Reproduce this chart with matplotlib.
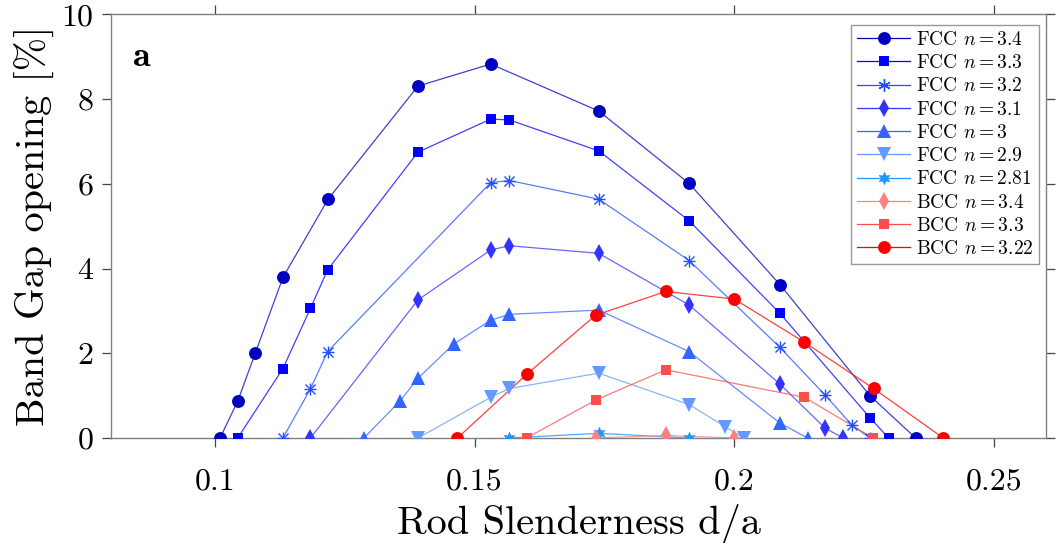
import matplotlib
matplotlib.use("Agg")
import matplotlib.pyplot as plt

plt.rcParams["font.family"] = "serif"
plt.rcParams["font.serif"] = ["cmr10"]
plt.rcParams["mathtext.fontset"] = "cm"
plt.rcParams["axes.formatter.use_mathtext"] = True

# band gap opening [%] vs rod slenderness d/a
fcc34_x = [0.101, 0.1044, 0.1078, 0.1131, 0.1218, 0.1391, 0.1531, 0.1739, 0.1913, 0.2088, 0.2261, 0.2349]
fcc34_y = [0.0, 0.87, 2.01, 3.79, 5.64, 8.31, 8.83, 7.72, 6.01, 3.62, 1.00, 0.0]

fcc33_x = [0.1044, 0.1131, 0.1184, 0.1217, 0.1391, 0.1531, 0.1567, 0.1739, 0.1913, 0.2088, 0.2261, 0.2297]
fcc33_y = [0.0, 1.64, 3.06, 3.97, 6.75, 7.53, 7.51, 6.78, 5.13, 2.94, 0.48, 0.0]

fcc32_x = [0.1131, 0.1184, 0.1217, 0.1531, 0.1567, 0.1739, 0.1913, 0.2087, 0.2175, 0.2226, 0.2261]
fcc32_y = [0.0, 1.16, 2.04, 6.03, 6.08, 5.64, 4.19, 2.15, 1.01, 0.31, 0.0]

fcc31_x = [0.1184, 0.1391, 0.1531, 0.1567, 0.1739, 0.1913, 0.2088, 0.2175, 0.2210]
fcc31_y = [0.0, 3.26, 4.44, 4.54, 4.36, 3.14, 1.27, 0.23, 0.0]

fcc30_x = [0.1287, 0.1357, 0.1391, 0.1460, 0.1531, 0.1567, 0.1739, 0.1913, 0.2088, 0.2141]
fcc30_y = [0.0, 0.88, 1.41, 2.22, 2.78, 2.92, 3.02, 2.04, 0.35, 0.0]

fcc29_x = [0.1391, 0.1531, 0.1567, 0.1739, 0.1913, 0.1982, 0.2018]
fcc29_y = [0.0, 0.96, 1.17, 1.53, 0.79, 0.27, 0.0]

fcc281_x = [0.1567, 0.1739, 0.1913]
fcc281_y = [0.0, 0.11, 0.0]

bcc34_x = [0.1734, 0.1868, 0.2000]
bcc34_y = [0.0, 0.06, 0.0]

bcc33_x = [0.1600, 0.1734, 0.1868, 0.2135, 0.2267]
bcc33_y = [0.0, 0.90, 1.61, 0.96, 0.0]

bcc322_x = [0.1467, 0.1600, 0.1733, 0.1868, 0.2000, 0.2135, 0.2268, 0.2402]
bcc322_y = [0.0, 1.50, 2.90, 3.46, 3.28, 2.26, 1.17, 0.0]

series = [
    (fcc34_x, fcc34_y, "FCC $n = 3.4$", "#0000c0", "o", 9.3),
    (fcc33_x, fcc33_y, "FCC $n = 3.3$", "#0000ff", "s", 7),
    (fcc32_x, fcc32_y, "FCC $n = 3.2$", "#1f4fff", "*", 0),
    (fcc31_x, fcc31_y, "FCC $n = 3.1$", "#3333ff", "d", 9.3),
    (fcc30_x, fcc30_y, "FCC $n = 3$", "#3366ff", "^", 9.5),
    (fcc29_x, fcc29_y, "FCC $n = 2.9$", "#6699ff", "v", 9.5),
    (fcc281_x, fcc281_y, "FCC $n = 2.81$", "#2196ff", "h", 0),
    (bcc34_x, bcc34_y, "BCC $n = 3.4$", "#ff8080", "d", 9.3),
    (bcc33_x, bcc33_y, "BCC $n = 3.3$", "#ff4d4d", "s", 7),
    (bcc322_x, bcc322_y, "BCC $n = 3.22$", "#ff0000", "o", 9.3),
]

fig = plt.figure(figsize=(10.59, 5.43), dpi=100)
ax = fig.add_axes([0.1048, 0.1934, 0.8829, 0.7799])

for x, y, label, color, marker, ms in series:
    if marker == "*":
        # asterisk made of a plus and a cross
        ax.plot(x, y, "-", color=color, lw=0.9, alpha=0.75, zorder=2)
        ax.plot(x, y, "+", color=color, ms=9, mew=1.0, zorder=3)
        ax.plot(x, y, "x", color=color, ms=6.5, mew=1.0, zorder=3)
        ax.plot([], [], "-", color=color, lw=0.9, marker=(6, 2, 0), ms=9, mew=1.0, label=label)
    elif marker == "h":
        ax.plot(x, y, "-", color=color, lw=0.9, alpha=0.8, zorder=2)
        ax.plot(x, y, ls="none", marker=(6, 1, 0), color=color, ms=10, mew=0, zorder=3)
        ax.plot([], [], "-", color=color, lw=0.9, marker=(6, 1, 0), ms=10, mew=0, label=label)
    else:
        ax.plot(x, y, "-", color=color, lw=0.9, alpha=0.75, zorder=2)
        ax.plot(x, y, ls="none", marker=marker, color=color, ms=ms, mew=0, zorder=3)
        ax.plot([], [], "-", color=color, lw=0.9, marker=marker, ms=ms, mew=0, label=label)

ax.set_xlim(0.08, 0.26)
ax.set_ylim(0, 10)
ax.set_xticks([0.1, 0.15, 0.2, 0.25])
ax.set_xticklabels(["0.1", "0.15", "0.2", "0.25"])
ax.set_yticks([0, 2, 4, 6, 8, 10])
ax.tick_params(direction="out", length=6.5, width=0.9, color="#444444", labelsize=23,
               top=True, right=True)
ax.tick_params(axis="x", pad=15)
ax.tick_params(axis="y", pad=6)
for sp in ax.spines.values():
    sp.set_color("#808080")
    sp.set_linewidth(1.0)

ax.set_xlabel("Rod Slenderness d/a", fontsize=29, labelpad=6)
ax.set_ylabel("Band Gap opening [%]", fontsize=29, labelpad=4)
ax.text(0.0235, 0.878, "a", transform=ax.transAxes, fontsize=26, family="cmb10",
        va="baseline", ha="left")

leg = ax.legend(loc="upper right", bbox_to_anchor=(0.9925, 0.975), fontsize=14,
                frameon=True, fancybox=False, edgecolor="#808080", handlelength=2.7,
                labelspacing=0.27, borderaxespad=0, handletextpad=0.3, borderpad=0.3)
leg.get_frame().set_linewidth(1.0)

fig.savefig("out.png", dpi=100)
